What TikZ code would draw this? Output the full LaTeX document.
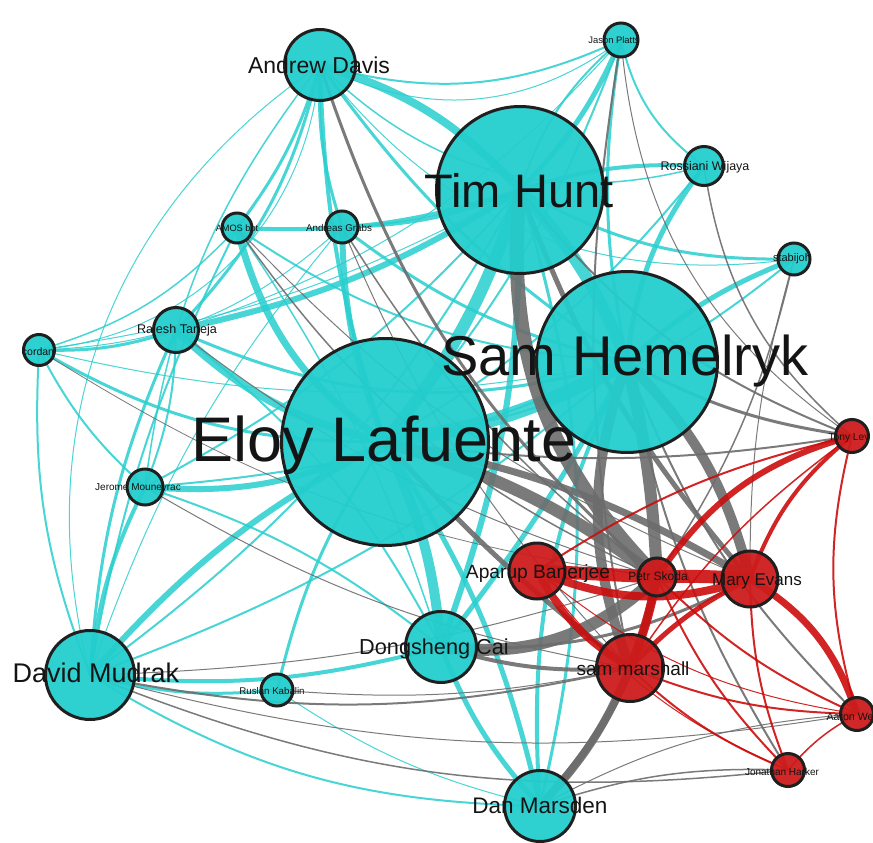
\documentclass[tikz,border=0pt]{standalone}
\usepackage{fontspec}
\setmainfont{Liberation Sans}
\usetikzlibrary{backgrounds}
\definecolor{ncyan}{RGB}{36,205,205}
\definecolor{nred}{RGB}{205,28,28}
\definecolor{ecyan}{RGB}{40,206,206}
\definecolor{ered}{RGB}{204,12,12}
\definecolor{egray}{RGB}{108,108,108}
\tikzset{
  x=1pt, y=1pt,
  vtx/.style={circle, draw=black!88, line width=3pt, inner sep=0pt, minimum size=#1, fill opacity=.95},
  vc/.style={vtx=#1, fill=ncyan},
  vr/.style={vtx=#1, fill=nred},
  lab/.style={inner sep=0pt, anchor=base, text=black!92, font=\fontsize{#1}{#1}\selectfont},
  ce/.style={draw=ecyan, opacity=.85},
  ge/.style={draw=egray, opacity=.9},
  re/.style={draw=ered, opacity=.9},
}
% edge: style, width (pt), source, target, bend angle
\newcommand\ed[5]{\draw[#1, line width=#2pt] (#3.center) to[bend left=#5] (#4.center);}
\begin{document}
\begin{tikzpicture}
\useasboundingbox (0,0) rectangle (873,-843);
\clip (0,0) rectangle (873,-843);

% vertices
\node[vc=207pt] (EL) at (385,-442) {};
\node[vc=181pt] (SH) at (627,-362) {};
\node[vc=167pt] (TH) at (520,-190) {};
\node[vc=71pt]  (AD) at (320,-65) {};
\node[vc=34pt]  (JP) at (621,-40) {};
\node[vc=39pt]  (RW) at (704,-166) {};
\node[vc=30pt]  (AB) at (237,-228) {};
\node[vc=32pt]  (AG) at (342,-227) {};
\node[vc=32pt]  (SJ) at (794,-259) {};
\node[vc=45pt]  (RT) at (176,-330) {};
\node[vc=31pt]  (LC) at (39,-350) {};
\node[vc=36pt]  (JM) at (145,-487) {};
\node[vc=71pt]  (DC) at (441,-647) {};
\node[vc=89pt]  (DM) at (90,-675) {};
\node[vc=32pt]  (RK) at (277,-690) {};
\node[vc=71pt]  (DMa) at (540,-806) {};
\node[vr=33pt]  (TL) at (852,-436) {};
\node[vr=56pt]  (APB) at (537,-571) {};
\node[vr=38pt]  (PS) at (657,-577) {};
\node[vr=56pt]  (ME) at (750,-579) {};
\node[vr=67pt]  (SM) at (630,-668) {};
\node[vr=33pt]  (AW) at (857,-714) {};
\node[vr=33pt]  (JH) at (788,-770) {};

\begin{scope}[on background layer]
% links within the cyan group
\ed{ce}{1}{AD}{LC}{40}
\ed{ce}{1}{DM}{AD}{35}
\ed{ce}{1.5}{AD}{RW}{-30}
\ed{ce}{1}{AD}{SJ}{-30}
\ed{ce}{2}{AD}{JP}{-20}
\ed{ce}{1}{AD}{JP}{-32}
\ed{ce}{2}{JP}{RW}{-20}
\ed{ce}{3}{JP}{SH}{-10}
\ed{ce}{2}{JP}{EL}{10}
\ed{ce}{1}{JP}{RT}{15}
\ed{ce}{2}{RW}{EL}{10}
\ed{ce}{2}{SJ}{EL}{15}
\ed{ce}{3}{RT}{AD}{-15}
\ed{ce}{3}{AD}{AB}{10}
\ed{ce}{3}{AD}{AG}{-10}
\ed{ce}{3}{RT}{LC}{10}
\ed{ce}{2}{RT}{JM}{10}
\ed{ce}{2}{LC}{JM}{-10}
\ed{ce}{1.5}{LC}{AB}{-15}
\ed{ce}{1}{LC}{AG}{-20}
\ed{ce}{2}{DM}{LC}{12}
\ed{ce}{3}{DM}{RT}{10}
\ed{ce}{4}{DM}{JM}{10}
\ed{ce}{2}{DM}{AB}{8}
\ed{ce}{1}{DM}{AG}{10}
\ed{ce}{4}{DM}{DC}{-10}
\ed{ce}{3}{DM}{RK}{-10}
\ed{ce}{2}{DMa}{DM}{15}
\ed{ce}{1}{DMa}{RK}{10}
\ed{ce}{1.5}{JM}{AD}{15}
\ed{ce}{2}{DC}{RT}{-12}
\ed{ce}{2}{DC}{JM}{-10}
\ed{ce}{1.5}{DC}{AB}{-8}
\ed{ce}{1}{TH}{LC}{10}
\ed{ce}{1}{SH}{LC}{12}
\ed{ce}{2}{TH}{DM}{12}
\ed{ce}{2}{SH}{DM}{10}
\ed{ce}{2}{TH}{JM}{10}
\ed{ce}{2}{SH}{JM}{10}
\ed{ce}{2}{SH}{AB}{15}
\ed{ce}{3}{SH}{AG}{12}
\ed{ce}{3}{SH}{AD}{10}
\ed{ce}{3}{SH}{RT}{20}
\ed{ce}{4}{TH}{AB}{10}
\ed{ce}{4}{TH}{AG}{10}
\ed{ce}{6}{RT}{TH}{-10}
\ed{ce}{3}{RK}{EL}{10}
\ed{ce}{3}{LC}{EL}{-15}
\ed{ce}{4}{AD}{EL}{-8}
\ed{ce}{6}{AG}{EL}{-10}
\ed{ce}{7}{AB}{EL}{-20}
\ed{ce}{8}{RT}{EL}{-15}
\ed{ce}{6}{JM}{EL}{-15}
\ed{ce}{6}{DM}{EL}{10}
\ed{ce}{5}{EL}{DMa}{10}
\ed{ce}{10}{EL}{DC}{10}
\ed{ce}{5}{DC}{DMa}{-10}
\ed{ce}{3}{TH}{DMa}{15}
\ed{ce}{4}{SH}{DMa}{-15}
\ed{ce}{5}{SH}{DC}{5}
\ed{ce}{6}{TH}{DC}{10}
\ed{ce}{3}{TH}{SJ}{-15}
\ed{ce}{5}{SH}{SJ}{10}
\ed{ce}{5}{SH}{RW}{15}
\ed{ce}{4}{TH}{RW}{10}
\ed{ce}{5}{TH}{JP}{-10}
\ed{ce}{2}{TH}{JP}{15}
\ed{ce}{8}{AD}{TH}{15}
\ed{ce}{12}{TH}{SH}{10}
\ed{ce}{12}{TH}{EL}{10}
\ed{ce}{14}{EL}{SH}{-10}

% links between the two groups
\ed{ge}{1}{JP}{TL}{-25}
\ed{ge}{1.5}{RW}{TL}{-20}
\ed{ge}{1.5}{SJ}{PS}{10}
\ed{ge}{1}{SJ}{ME}{-8}
\ed{ge}{2}{TH}{TL}{-15}
\ed{ge}{3}{SH}{TL}{-10}
\ed{ge}{2}{SH}{AW}{-12}
\ed{ge}{2}{SH}{JH}{-10}
\ed{ge}{2}{EL}{TL}{-8}
\ed{ge}{2}{DM}{SM}{-12}
\ed{ge}{1.5}{DM}{JH}{-14}
\ed{ge}{1}{DM}{AW}{-12}
\ed{ge}{1}{DM}{PS}{-8}
\ed{ge}{1}{RK}{SM}{-8}
\ed{ge}{1.5}{DMa}{JH}{10}
\ed{ge}{1}{DMa}{AW}{12}
\ed{ge}{1}{RT}{PS}{-10}
\ed{ge}{1.5}{AB}{PS}{-15}
\ed{ge}{1}{AB}{ME}{-12}
\ed{ge}{1.5}{AG}{PS}{-10}
\ed{ge}{1}{AG}{SM}{-10}
\ed{ge}{0.8}{LC}{PS}{-12}
\ed{ge}{1}{JM}{SM}{-10}
\ed{ge}{2}{JP}{SM}{-10}
\ed{ge}{3}{AD}{PS}{-15}
\ed{ge}{3}{DC}{ME}{-15}
\ed{ge}{4}{DC}{SM}{-10}
\ed{ge}{5}{EL}{SM}{-5}
\ed{ge}{5}{TH}{ME}{-10}
\ed{ge}{7}{DMa}{PS}{-15}
\ed{ge}{8}{DMa}{SM}{-10}
\ed{ge}{12}{DC}{PS}{-25}
\ed{ge}{10}{SH}{ME}{15}
\ed{ge}{7}{EL}{ME}{10}
\ed{ge}{12}{EL}{PS}{10}
\ed{ge}{10}{SH}{SM}{-20}
\ed{ge}{12}{SH}{PS}{5}
\ed{ge}{14}{TH}{PS}{-25}

% links within the red group
\ed{re}{1.5}{TL}{SM}{-10}
\ed{re}{2}{TL}{AW}{-15}
\ed{re}{1.5}{JH}{AW}{10}
\ed{re}{1}{APB}{AW}{-15}
\ed{re}{1}{APB}{JH}{-15}
\ed{re}{2}{SM}{AW}{-10}
\ed{re}{2}{PS}{AW}{-10}
\ed{re}{2}{SM}{JH}{-10}
\ed{re}{2}{PS}{JH}{-10}
\ed{re}{2}{ME}{JH}{-10}
\ed{re}{2}{APB}{TL}{10}
\ed{re}{4}{ME}{TL}{15}
\ed{re}{6}{PS}{TL}{20}
\ed{re}{7}{ME}{AW}{20}
\ed{re}{5}{SM}{ME}{10}
\ed{re}{7}{APB}{SM}{-15}
\ed{re}{9}{PS}{SM}{5}
\ed{re}{8}{APB}{ME}{-20}
\ed{re}{13}{PS}{ME}{3}
\ed{re}{13}{APB}{PS}{0}
\end{scope}

% labels
\node[lab=63] (EL-l) at (384,-461) {Eloy Lafuente};
\node[lab=56] (SH-l) at (625,-375) {Sam Hemelryk};
\node[lab=47] (TH-l) at (519,-207) {Tim Hunt};
\node[lab=23] (AD-l) at (319,-74) {Andrew Davis};
\node[lab=27] (DM-l) at (96,-682) {David Mudrak};
\node[lab=22.5] (DMa-l) at (540,-813) {Dan Marsden};
\node[lab=21.7] (DC-l) at (434,-654) {Dongsheng Cai};
\node[lab=19.2] (APB-l) at (538,-578) {Aparup Banerjee};
\node[lab=19] (SM-l) at (633,-675) {sam marshall};
\node[lab=17] (ME-l) at (757,-585) {Mary Evans};
\node[lab=12] (PS-l) at (658,-580) {Petr Skoda};
\node[lab=12.6] (RT-l) at (177,-333) {Rajesh Taneja};
\node[lab=10] (JM-l) at (138,-490) {Jerome Mouneyrac};
\node[lab=9.7] (RK-l) at (272,-694) {Ruslan Kabalin};
\node[lab=9.4] (JP-l) at (614,-44) {Jason Platts};
\node[lab=12.5] (RW-l) at (705,-170) {Rossiani Wijaya};
\node[lab=9.2] (AB-l) at (237,-231) {AMOS bot};
\node[lab=9.8] (AG-l) at (339,-231) {Andreas Grabs};
\node[lab=11] (SJ-l) at (792,-261) {stabijoh};
\node[lab=10.5] (LC-l) at (38,-355) {cordan};
\node[lab=10.2] (TL-l) at (849,-440) {Tony Lev};
\node[lab=10.6] (AW-l) at (850,-720) {Aaron We};
\node[lab=10] (JH-l) at (782,-775) {Jonathan Harker};
\end{tikzpicture}
\end{document}
